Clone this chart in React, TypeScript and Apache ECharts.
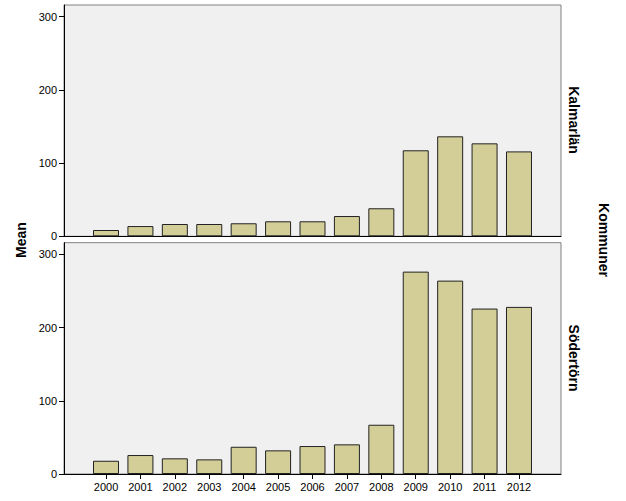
import React, { useEffect, useRef } from "react";
import * as echarts from "echarts";

const years = ["2000", "2001", "2002", "2003", "2004", "2005", "2006", "2007", "2008", "2009", "2010", "2011", "2012"];
const kalmarlan = [8.6, 14, 16.8, 16.8, 17.8, 20.5, 20.5, 27.7, 38.3, 117.5, 136.6, 127, 116];
const sodertorn = [18.1, 25.9, 21.4, 20, 37.2, 32.3, 38.2, 40.5, 67.3, 276.5, 264.2, 226, 228.3];
const panelNames = ["Kalmarlän", "Södertörn"];
const yTicks = [0, 100, 200, 300];
const yMax = 316;

const FONT = "'Liberation Sans', Arial, sans-serif";

export default function App() {
  const ref = useRef<HTMLDivElement>(null);
  useEffect(() => {
    if (!ref.current) return;
    const chart = echarts.init(ref.current, null, { renderer: "svg" });
    const tops = [5, 242.7];
    const h = 231.3;
    const outerLeft = 64;
    const outerW = 497;
    const innerLeft = 88.8;
    const innerW = 447.4;
    const seriesData = [kalmarlan, sodertorn];

    const grid: any[] = [];
    const xAxis: any[] = [];
    const yAxis: any[] = [];
    const series: any[] = [];

    tops.forEach((top, i) => {
      const isBottom = i === 1;
      grid.push({
        left: outerLeft,
        top,
        width: outerW,
        height: h,
        show: true,
        backgroundColor: "#f0f0f0",
        borderColor: "#808080",
        borderWidth: 1,
      });
      xAxis.push({
        type: "value",
        gridIndex: 2 * i,
        min: 0,
        max: 1,
        axisLine: { show: true, lineStyle: { color: "#000", width: 1 } },
        axisTick: { show: false },
        axisLabel: { show: false },
        splitLine: { show: false },
      });
      yAxis.push({
        type: "value",
        gridIndex: 2 * i,
        min: 0,
        max: yMax,
        interval: 100,
        axisLine: { show: true, lineStyle: { color: "#000", width: 1 } },
        axisTick: { show: true, length: 5, lineStyle: { color: "#000" }, customValues: yTicks },
        axisLabel: {
          show: true,
          margin: 7,
          color: "#000",
          fontSize: 11,
          fontFamily: FONT,
          customValues: yTicks,
        },
        splitLine: { show: false },
      });
      grid.push({
        left: innerLeft,
        top,
        width: innerW,
        height: h,
        show: false,
      });
      xAxis.push({
        type: "category",
        gridIndex: 2 * i + 1,
        data: years,
        boundaryGap: true,
        axisLine: { show: false },
        axisTick: { show: isBottom, alignWithLabel: true, length: 5, lineStyle: { color: "#000" } },
        axisLabel: { show: isBottom, margin: 7, color: "#000", fontSize: 11, fontFamily: FONT },
        splitLine: { show: false },
      });
      yAxis.push({
        type: "value",
        gridIndex: 2 * i + 1,
        min: 0,
        max: yMax,
        show: false,
        splitLine: { show: false },
      });
      series.push({
        type: "bar",
        xAxisIndex: 2 * i + 1,
        yAxisIndex: 2 * i + 1,
        data: seriesData[i],
        barWidth: 26,
        itemStyle: { color: "#d3ce98", borderColor: "#222", borderWidth: 1 },
        z: 3,
      });
    });

    const bold = `bold 14px ${FONT}`;
    chart.setOption({
      animation: false,
      backgroundColor: "#fff",
      grid,
      xAxis,
      yAxis,
      series,
      graphic: [
        {
          type: "text",
          x: 21,
          y: 240,
          rotation: Math.PI / 2,
          style: { text: "Mean", font: bold, fill: "#000", align: "center", verticalAlign: "middle" },
        },
        {
          type: "text",
          x: 604,
          y: 240,
          rotation: -Math.PI / 2,
          style: { text: "Kommuner", font: bold, fill: "#000", align: "center", verticalAlign: "middle" },
        },
        {
          type: "text",
          x: 574,
          y: 120,
          rotation: -Math.PI / 2,
          style: { text: panelNames[0], font: bold, fill: "#000", align: "center", verticalAlign: "middle" },
        },
        {
          type: "text",
          x: 574,
          y: 358,
          rotation: -Math.PI / 2,
          style: { text: panelNames[1], font: bold, fill: "#000", align: "center", verticalAlign: "middle" },
        },
      ],
    });
    return () => chart.dispose();
  }, []);
  return <div ref={ref} style={{ width: 626, height: 501, position: "absolute", left: 0, top: 0 }} />;
}
